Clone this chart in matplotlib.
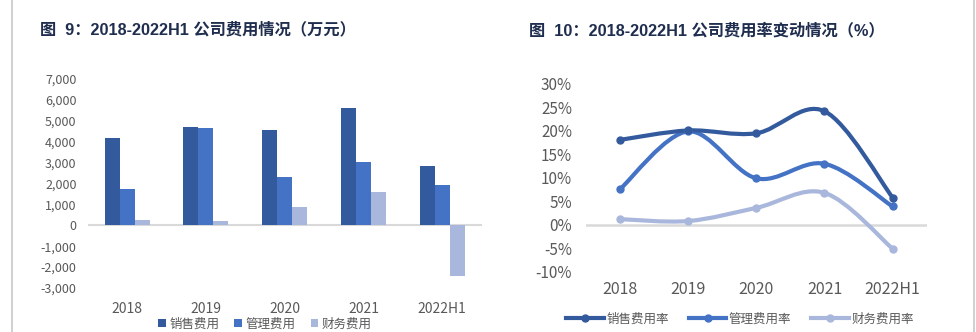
import numpy as np
import matplotlib.pyplot as plt
from matplotlib.path import Path
from matplotlib.patches import PathPatch
from matplotlib.lines import Line2D
from matplotlib.ticker import FuncFormatter

plt.rcParams['font.family'] = ['Noto Sans CJK SC', 'DejaVu Sans']

# 数据
years = ['2018', '2019', '2020', '2021', '2022H1']
sales_fee = [4200, 4700, 4560, 5600, 2840]
admin_fee = [1760, 4660, 2290, 3010, 1950]
finance_fee = [240, 190, 860, 1570, -2440]

sales_rate = [18.1, 20.1, 19.5, 24.2, 5.8]
admin_rate = [7.6, 19.9, 9.9, 13.0, 3.9]
finance_rate = [1.2, 0.8, 3.6, 6.8, -5.1]

c_dark = '#345A9E'
c_mid = '#4472C4'
c_light = '#A9B7DC'
c_text = '#595959'
c_title = '#1F2D4E'

fig = plt.figure(figsize=(9.76, 3.32), dpi=100)

# 页面边线
fig.add_artist(Line2D([11.5 / 976, 11.5 / 976], [0.0, 1.0], color='#C8C8C8', lw=1.2))
fig.add_artist(Line2D([974 / 976, 974 / 976], [0.0, 1.0], color='#C8C8C8', lw=1.2))

title_font = ['Liberation Sans', 'Noto Sans CJK SC']
fig.text(40 / 976, 1 - 30 / 332, '图  9：2018-2022H1 公司费用情况（万元）', fontsize=11.7,
         fontweight='bold', color=c_title, va='center', ha='left', family=title_font)
fig.text(529 / 976, 1 - 30 / 332, '图  10：2018-2022H1 公司费用率变动情况（%）', fontsize=11.7,
         fontweight='bold', color=c_title, va='center', ha='left', family=title_font)

# 左图：柱状图
ax1 = fig.add_axes([87.7 / 976, 1 - 288 / 332, (481.7 - 87.7) / 976, (288 - 79) / 332])
x = np.arange(len(years))
w = 0.19
ax1.bar(x - w, sales_fee, w, color=c_dark, label='销售费用')
ax1.bar(x, admin_fee, w, color=c_mid, label='管理费用')
ax1.bar(x + w, finance_fee, w, color=c_light, label='财务费用')
ax1.set_xlim(-0.5, 4.5)
ax1.set_ylim(-3000, 7000)
ax1.set_yticks(range(-3000, 7001, 1000))
ax1.yaxis.set_major_formatter(FuncFormatter(lambda v, p: f'{int(v):,}'))
ax1.axhline(0, color='#D9D9D9', lw=1.5, zorder=0)
ax1.set_xticks(x)
ax1.set_xticklabels(years)
for s in ax1.spines.values():
    s.set_visible(False)
ax1.tick_params(axis='y', length=0, pad=8, labelsize=9, labelcolor=c_text)
ax1.tick_params(axis='x', length=0, pad=10, labelsize=10, labelcolor=c_text)
ax1.legend(loc='center', bbox_to_anchor=(265 / 976, 1 - 324 / 332), bbox_transform=fig.transFigure,
           ncol=3, frameon=False, fontsize=9, handlelength=0.6, handleheight=0.6,
           handletextpad=0.3, columnspacing=1.2, labelcolor=c_text)


# 右图：平滑折线
def smooth_path(xs, ys):
    pts = np.column_stack([xs, ys]).astype(float)
    n = len(pts)
    verts = [pts[0]]
    codes = [Path.MOVETO]
    for i in range(n - 1):
        p0 = pts[i - 1] if i > 0 else pts[i]
        p1 = pts[i]
        p2 = pts[i + 1]
        p3 = pts[i + 2] if i + 2 < n else pts[i + 1]
        verts += [p1 + (p2 - p0) / 6, p2 - (p3 - p1) / 6, p2]
        codes += [Path.CURVE4] * 3
    return Path(verts, codes)


ax2 = fig.add_axes([586 / 976, 1 - 271.7 / 332, (926.7 - 586) / 976, (271.7 - 84) / 332])
ax2.set_xlim(-0.5, 4.5)
ax2.set_ylim(-10, 30)
ax2.set_yticks(range(-10, 31, 5))
ax2.yaxis.set_major_formatter(FuncFormatter(lambda v, p: f'{int(v)}%'))
ax2.axhline(0, color='#D9D9D9', lw=1.8, zorder=0)
for vals, col in [(finance_rate, c_light), (admin_rate, c_mid), (sales_rate, c_dark)]:
    ax2.add_patch(PathPatch(smooth_path(x, vals), fill=False, edgecolor=col, lw=3, capstyle='round'))
    ax2.plot(x, vals, 'o', color=col, ms=5)
leg_handles = [Line2D([], [], color=c, lw=3, marker='o', ms=5) for c in (c_dark, c_mid, c_light)]
ax2.set_xticks(x)
ax2.set_xticklabels(years)
for s in ax2.spines.values():
    s.set_visible(False)
ax2.tick_params(axis='y', length=0, pad=10, labelsize=11, labelcolor=c_text)
ax2.tick_params(axis='x', length=0, pad=7, labelsize=11.5, labelcolor=c_text)
fig.legend(leg_handles, ['销售费用率', '管理费用率', '财务费用率'], loc='center',
           bbox_to_anchor=(740 / 976, 1 - 319 / 332), ncol=3, frameon=False, fontsize=9,
           handlelength=3.0, handletextpad=0.2, columnspacing=1.6, numpoints=1, labelcolor=c_text)

fig.savefig('out.png', dpi=100)
